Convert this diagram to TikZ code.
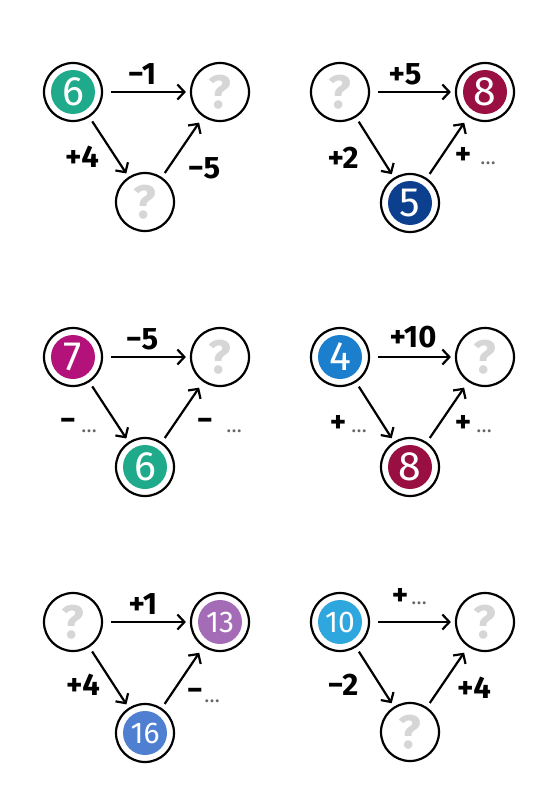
\documentclass[tikz,border=0pt]{standalone}
\usepackage{fontspec}
\setmainfont{Fira Sans}
\usetikzlibrary{arrows.meta}
\definecolor{cteal}{HTML}{1FAA8C}
\definecolor{cred}{HTML}{9A0F42}
\definecolor{cdblue}{HTML}{0C3F8E}
\definecolor{cmag}{HTML}{B3127A}
\definecolor{cblue}{HTML}{1B7FCE}
\definecolor{cpurple}{HTML}{A46BB6}
\definecolor{cmblue}{HTML}{4F7FD1}
\definecolor{clblue}{HTML}{2EA6DE}
\definecolor{qgray}{HTML}{D6D6D6}
\begin{document}
\begin{tikzpicture}[x=1pt,y=-1pt,
  ring/.style={circle,draw=black,line width=2.2pt,minimum size=58pt,inner sep=0pt},
  num/.style={ring,path picture={\fill[#1] (path picture bounding box.center) circle (22pt);},
    text=white,font=\fontsize{41}{41}\selectfont},
  numtwo/.style={num=#1,font=\fontsize{30}{30}\selectfont},
  qm/.style={ring,text=qgray,font=\bfseries\fontsize{47}{47}\selectfont},
  arr/.style={-{Straight Barb[length=7pt,width=15pt]},line width=2.2pt},
  harr/.style={arr,shorten <=8pt,shorten >=4pt},
  darr/.style={arr,shorten <=5pt,shorten >=4pt},
  uarr/.style={arr,shorten <=5pt,shorten >=7pt},
  lab/.style={font=\bfseries\fontsize{31}{31}\selectfont},
  dots/.style={font=\fontsize{21}{21}\selectfont,text=black!60}]
\fill[white] (0,0) rectangle (557,800);
\useasboundingbox (0,0) rectangle (557,800);
% Panel 1
\node[num=cteal] (a1) at (73,92) {6};
\node[qm] (b1) at (220,92) {?};
\node[qm] (c1) at (145,202) {?};
\draw[harr] (a1) -- (b1);
\draw[darr] (a1) -- (c1);
\draw[uarr] (c1) -- (b1);
\node[lab] (l1a) at (142,74) {−1};
\node[lab] (l1b) at (82,157) {+4};
\node[lab] (l1c) at (204,168) {−5};
% Panel 2
\node[qm] (a2) at (340,92) {?};
\node[num=cred] (b2) at (485,92) {8};
\node[num=cdblue] (c2) at (410,203) {5};
\draw[harr] (a2) -- (b2);
\draw[darr] (a2) -- (c2);
\draw[uarr] (c2) -- (b2);
\node[lab] (l2a) at (405,74) {+5};
\node[lab] (l2b) at (343,158) {+2};
\node[lab] (l2c) at (463,156) {+};
\node[dots] (l2d) at (488,163) {…};
% Panel 3
\node[num=cmag] (a3) at (73,357) {7};
\node[qm] (b3) at (220,357) {?};
\node[num=cteal] (c3) at (145,467) {6};
\draw[harr] (a3) -- (b3);
\draw[darr] (a3) -- (c3);
\draw[uarr] (c3) -- (b3);
\node[lab] (l3a) at (142,339) {−5};
\node[lab] (l3b) at (68,424) {−};
\node[dots] (l3c) at (89,431) {…};
\node[lab] (l3d) at (205,424) {−};
\node[dots] (l3e) at (234,431) {…};
% Panel 4
\node[num=cblue] (a4) at (340,357) {4};
\node[qm] (b4) at (485,357) {?};
\node[num=cred] (c4) at (410,467) {8};
\draw[harr] (a4) -- (b4);
\draw[darr] (a4) -- (c4);
\draw[uarr] (c4) -- (b4);
\node[lab] (l4a) at (413,337) {+10};
\node[lab] (l4b) at (338,424) {+};
\node[dots] (l4c) at (359,431) {…};
\node[lab] (l4d) at (463,424) {+};
\node[dots] (l4e) at (484,431) {…};
% Panel 5
\node[qm] (a5) at (73,622) {?};
\node[numtwo=cpurple] (b5) at (220,622) {13};
\node[numtwo=cmblue] (c5) at (145,733) {16};
\draw[harr] (a5) -- (b5);
\draw[darr] (a5) -- (c5);
\draw[uarr] (c5) -- (b5);
\node[lab] (l5a) at (143,604) {+1};
\node[lab] (l5b) at (83,685) {+4};
\node[lab] (l5c) at (195,694) {−};
\node[dots] (l5d) at (212,701) {…};
% Panel 6
\node[numtwo=clblue] (a6) at (340,622) {10};
\node[qm] (b6) at (485,622) {?};
\node[qm] (c6) at (410,732) {?};
\draw[harr] (a6) -- (b6);
\draw[darr] (a6) -- (c6);
\draw[uarr] (c6) -- (b6);
\node[lab] (l6a) at (400,597) {+};
\node[dots] (l6b) at (419,603) {…};
\node[lab] (l6c) at (343,685) {−2};
\node[lab] (l6d) at (474,688) {+4};
\end{tikzpicture}
\end{document}
